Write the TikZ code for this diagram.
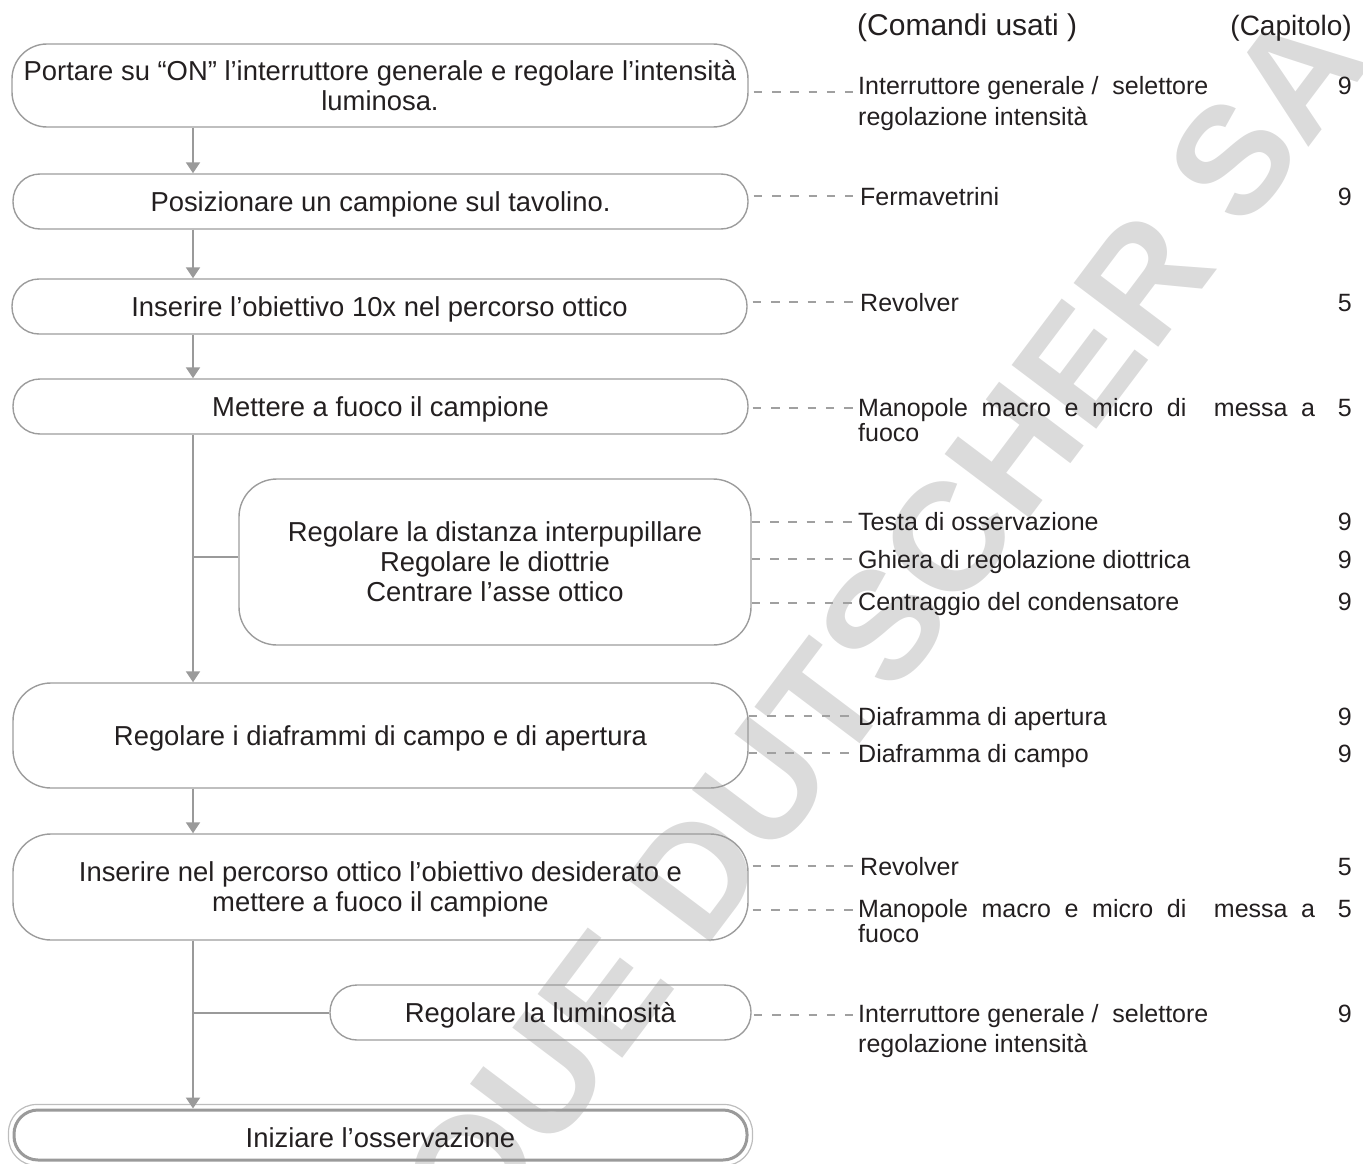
\documentclass[tikz,border=0pt]{standalone}
\usepackage{fontspec}
\setmainfont{Liberation Sans}
\usetikzlibrary{arrows.meta}
\definecolor{txt}{HTML}{231F20}
\definecolor{boxln}{HTML}{9C9C9C}
\definecolor{flowln}{HTML}{9A9A9A}
\definecolor{dashln}{HTML}{A0A0A0}
\definecolor{wmark}{HTML}{DBDBDB}
\definecolor{outerln}{HTML}{BDBDBD}
\newcommand\mainsz{\fontsize{27.4}{30}\selectfont}
\newcommand\sidesz{\fontsize{25}{30}\selectfont}
\newcommand\headsz{\fontsize{30}{32}\selectfont}
\newcommand\headszb{\fontsize{28}{32}\selectfont}
\begin{document}
\begin{tikzpicture}[x=1pt,y=-1pt,
  box/.style={draw=boxln, line width=1.4pt, inner sep=0pt, text=txt, align=center, font=\mainsz},
  onebox/.style={box, text depth=0pt},
  flow/.style={draw=flowln, line width=2pt, -{Triangle[width=14pt,length=11pt]}},
  branch/.style={draw=flowln, line width=2pt},
  dashline/.style={draw=dashln, line width=2.2pt, dash pattern=on 8.5pt off 9.8pt},
  side/.style={inner sep=0pt, text=txt, font=\sidesz, anchor=base west},
  chap/.style={inner sep=0pt, text=txt, font=\sidesz, anchor=base east},
  head/.style={inner sep=0pt, text=txt}]
\useasboundingbox (0,0) rectangle (1363,1164);
% watermark
\begin{scope}
\clip (0,0) rectangle (1363,1164);
\node[rotate=53, text=wmark, inner sep=0pt, font=\fontsize{154}{154}\bfseries\selectfont] (wm) at (895,633) {QUE DUTSCHER SA};
\end{scope}
% flow line x
\coordinate (fx) at (193,0);
% boxes
\node[box, minimum width=736pt, minimum height=83pt, rounded corners=35pt] (b1) at (380,85.5)
  {Portare su “ON” l’interruttore generale e regolare l’intensità\\luminosa.};
\node[onebox, minimum width=735pt, minimum height=55pt, rounded corners=27pt] (b2) at (380.5,201.5)
  {Posizionare un campione sul tavolino.};
\node[onebox, minimum width=735pt, minimum height=55pt, rounded corners=27pt] (b3) at (379.5,306.5)
  {Inserire l’obiettivo 10x nel percorso ottico};
\node[onebox, minimum width=735pt, minimum height=55pt, rounded corners=27pt] (b4) at (380.5,406.5)
  {Mettere a fuoco il campione};
\node[box, minimum width=512pt, minimum height=166pt, rounded corners=38pt] (b5) at (495,562)
  {Regolare la distanza interpupillare\\Regolare le diottrie\\Centrare l’asse ottico};
\node[onebox, minimum width=735pt, minimum height=105pt, rounded corners=38pt] (b6) at (380.5,735.5)
  {Regolare i diaframmi di campo e di apertura};
\node[onebox, minimum width=735pt, minimum height=106pt, rounded corners=38pt] (b7) at (380.5,887)
  {Inserire nel percorso ottico l’obiettivo desiderato e\\mettere a fuoco il campione};
\node[onebox, minimum width=421pt, minimum height=55pt, rounded corners=27pt] (b8) at (540.5,1012.5)
  {Regolare la luminosità};
\node[onebox, text height=24pt, draw=flowln, line width=3pt, minimum width=733pt, minimum height=50pt, rounded corners=24pt] (b9) at (380.5,1135)
  {Iniziare l’osservazione};
\draw[draw=outerln, line width=1.2pt, rounded corners=28pt]
  ([shift={(-4pt,4pt)}]b9.north west) rectangle ([shift={(4pt,-4pt)}]b9.south east);
% flow arrows
\draw[flow] (b1.south -| fx) -- (b2.north -| fx);
\draw[flow] (b2.south -| fx) -- (b3.north -| fx);
\draw[flow] (b3.south -| fx) -- (b4.north -| fx);
\draw[flow] (b4.south -| fx) -- (b6.north -| fx);
\draw[branch] ([yshift=5pt]b5.west) -- ([yshift=5pt]b5.west -| fx);
\draw[flow] (b6.south -| fx) -- (b7.north -| fx);
\draw[flow] (b7.south -| fx) -- (b9.north -| fx);
\draw[branch] (b8.west) -- (b8.west -| fx);
% header
\node[head, font=\headsz, anchor=base west] (hc) at (857,36) {(Comandi usati )};
\node[head, font=\headszb, anchor=base east] (hp) at (1352,36) {(Capitolo)};
% side labels
\node[side] (l1) at (858,95) {Interruttore generale /\ \ selettore};
\node[side] (l1b) at (858,125) {regolazione intensità};
\node[chap] (n1) at (1352,95) {9};
\node[side] (l2) at (860,205) {Fermavetrini};
\node[chap] (n2) at (1352,205) {9};
\node[side] (l3) at (860,311) {Revolver};
\node[chap] (n3) at (1352,311) {5};
\node[side] (l4) at (858,416) {\makebox[457pt][s]{Manopole macro e micro di\hspace{14pt} messa a}};
\node[side] (l4b) at (858,441) {fuoco};
\node[chap] (n4) at (1352,416) {5};
\node[side] (l5) at (858,530) {Testa di osservazione};
\node[chap] (n5) at (1352,530) {9};
\node[side] (l6) at (858,568) {Ghiera di regolazione diottrica};
\node[chap] (n6) at (1352,568) {9};
\node[side] (l7) at (858,610) {Centraggio del condensatore};
\node[chap] (n7) at (1352,610) {9};
\node[side] (l8) at (858,725) {Diaframma di apertura};
\node[chap] (n8) at (1352,725) {9};
\node[side] (l9) at (858,762) {Diaframma di campo};
\node[chap] (n9) at (1352,762) {9};
\node[side] (l10) at (860,875) {Revolver};
\node[chap] (n10) at (1352,875) {5};
\node[side] (l11) at (858,917) {\makebox[457pt][s]{Manopole macro e micro di\hspace{14pt} messa a}};
\node[side] (l11b) at (858,942) {fuoco};
\node[chap] (n11) at (1352,917) {5};
\node[side] (l12) at (858,1022) {Interruttore generale /\ \ selettore};
\node[side] (l12b) at (858,1052) {regolazione intensità};
\node[chap] (n12) at (1352,1022) {9};
% dashed connectors
\coordinate (d1) at (853,92);
\coordinate (d2) at (853,196);
\coordinate (d3) at (853,302);
\coordinate (d4) at (853,408);
\coordinate (d5) at (853,522);
\coordinate (d6) at (853,559);
\coordinate (d7) at (853,603);
\coordinate (d8) at (853,716);
\coordinate (d9) at (853,753);
\coordinate (d10) at (853,866);
\coordinate (d11) at (853,910);
\coordinate (d12) at (853,1015);
\draw[dashline] ([xshift=5pt]d1 -| b1.east) -- (d1);
\draw[dashline] ([xshift=5pt]d2 -| b2.east) -- (d2);
\draw[dashline] ([xshift=5pt]d3 -| b3.east) -- (d3);
\draw[dashline] ([xshift=4pt]d4 -| b4.east) -- (d4);
\draw[dashline] (d5 -| b5.east) -- (d5);
\draw[dashline] (d6 -| b5.east) -- (d6);
\draw[dashline] (d7 -| b5.east) -- (d7);
\draw[dashline] (d8 -| b6.east) -- (d8);
\draw[dashline] (d9 -| b6.east) -- (d9);
\draw[dashline] ([xshift=4pt]d10 -| b7.east) -- (d10);
\draw[dashline] ([xshift=4pt]d11 -| b7.east) -- (d11);
\draw[dashline] ([xshift=2pt]d12 -| b8.east) -- (d12);
\end{tikzpicture}
\end{document}
